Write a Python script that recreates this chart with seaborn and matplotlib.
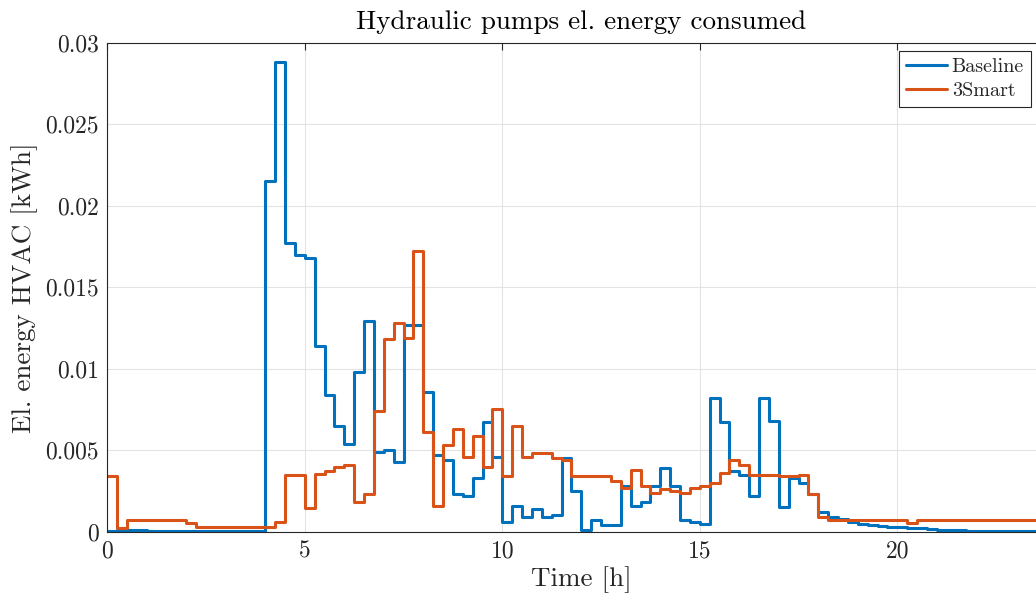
import numpy as np
import pandas as pd
import matplotlib
matplotlib.use("Agg")
import matplotlib.pyplot as plt
import seaborn as sns

# 15-minute interval energy values (kWh), one row per hour
baseline = [
    0.00005, 0.00012, 0.00012, 0.00012,   # 0 h
    0.00003, 0.00003, 0.00003, 0.00003,   # 1 h
    0.00003, 0.00003, 0.00003, 0.00003,   # 2 h
    0.00003, 0.00003, 0.00003, 0.00003,   # 3 h
    0.0215, 0.0288, 0.0177, 0.0170,       # 4 h
    0.0168, 0.0114, 0.0084, 0.0065,       # 5 h
    0.0054, 0.0098, 0.0129, 0.0049,       # 6 h
    0.0050, 0.0043, 0.0127, 0.0127,       # 7 h
    0.0086, 0.0047, 0.0044, 0.0023,       # 8 h
    0.0022, 0.0033, 0.0067, 0.0046,       # 9 h
    0.0006, 0.0016, 0.0009, 0.0014,       # 10 h
    0.0009, 0.0010, 0.0045, 0.0025,       # 11 h
    0.0001, 0.0007, 0.0004, 0.0004,       # 12 h
    0.0028, 0.0016, 0.0018, 0.0028,       # 13 h
    0.0039, 0.0028, 0.0007, 0.0006,       # 14 h
    0.0005, 0.0082, 0.0067, 0.0037,       # 15 h
    0.0035, 0.0022, 0.0082, 0.0068,       # 16 h
    0.0015, 0.0033, 0.0030, 0.0023,       # 17 h
    0.0012, 0.0009, 0.0008, 0.0006,       # 18 h
    0.0005, 0.0004, 0.00035, 0.0003,      # 19 h
    0.00028, 0.00024, 0.0002, 0.00016,    # 20 h
    0.00013, 0.0001, 0.00008, 0.00006,    # 21 h
    0.00004, 0.00003, 0.00003, 0.00003,   # 22 h
    0.00003, 0.00003, 0.00003, 0.00003,   # 23 h
]

smart = [
    0.0034, 0.0002, 0.00074, 0.00074,     # 0 h
    0.00074, 0.00074, 0.00074, 0.00074,   # 1 h
    0.00053, 0.0003, 0.0003, 0.0003,      # 2 h
    0.0003, 0.0003, 0.0003, 0.0003,       # 3 h
    0.0003, 0.0006, 0.0035, 0.0035,       # 4 h
    0.00145, 0.00355, 0.0037, 0.0040,     # 5 h
    0.0041, 0.0018, 0.0023, 0.0074,       # 6 h
    0.0118, 0.0128, 0.0119, 0.0172,       # 7 h
    0.0061, 0.0016, 0.0053, 0.0063,       # 8 h
    0.0046, 0.0059, 0.0040, 0.0075,       # 9 h
    0.0034, 0.0065, 0.0046, 0.0048,       # 10 h
    0.0048, 0.0045, 0.0044, 0.0034,       # 11 h
    0.0034, 0.0034, 0.0034, 0.0031,       # 12 h
    0.0027, 0.0038, 0.0028, 0.0024,       # 13 h
    0.0026, 0.0025, 0.0024, 0.0027,       # 14 h
    0.0028, 0.0030, 0.0036, 0.0044,       # 15 h
    0.0041, 0.0035, 0.0035, 0.0035,       # 16 h
    0.0034, 0.0034, 0.0035, 0.0023,       # 17 h
    0.0009, 0.00074, 0.00074, 0.00074,    # 18 h
    0.00074, 0.00074, 0.00074, 0.00074,   # 19 h
    0.00074, 0.00053, 0.00074, 0.00074,   # 20 h
    0.00074, 0.00074, 0.00074, 0.00074,   # 21 h
    0.00074, 0.00074, 0.00074, 0.00074,   # 22 h
    0.00074, 0.00074, 0.00074, 0.00074,   # 23 h
]

series_names = ["Baseline", "3Smart"]
x_ticks = [0, 5, 10, 15, 20]
x_tick_labels = ["0", "5", "10", "15", "20"]
y_ticks = [0, 0.005, 0.01, 0.015, 0.02, 0.025, 0.03]
y_tick_labels = ["0", "0.005", "0.01", "0.015", "0.02", "0.025", "0.03"]

step_h = 0.25
t_edges = np.arange(len(baseline) + 1) * step_h

frames = []
for name, vals in zip(series_names, [baseline, smart]):
    v = list(vals) + [vals[-1]]
    frames.append(pd.DataFrame({"Time": t_edges, "Energy": v, "Series": name}))
df = pd.concat(frames, ignore_index=True)

sns.set_style("white")
plt.rcParams["font.family"] = ["cmr10", "DejaVu Serif"]
plt.rcParams["mathtext.fontset"] = "cm"
plt.rcParams["axes.formatter.use_mathtext"] = True

fig = plt.figure(figsize=(10.36, 6.06), dpi=100)
ax_left = 107.3 / 1036
ax_width = 24 * 39.5 / 1036
ax_bottom = (606 - 531.7) / 606
ax_height = (531.7 - 42.7) / 606
ax = fig.add_axes([ax_left, ax_bottom, ax_width, ax_height])

palette = {"Baseline": "#0072BD", "3Smart": "#D95319"}
sns.lineplot(data=df, x="Time", y="Energy", hue="Series", palette=palette,
             estimator=None, sort=False, drawstyle="steps-post",
             linewidth=2.2, ax=ax, legend=True)

ax.set_xlim(0, 24)
ax.set_ylim(0, 0.03)
ax.set_xticks(x_ticks)
ax.set_xticklabels(x_tick_labels)
ax.set_yticks(y_ticks)
ax.set_yticklabels(y_tick_labels)
ax.grid(True, color="#e3e3e3", linewidth=0.8)
ax.set_axisbelow(True)
for s in ax.spines.values():
    s.set_color("#262626")
    s.set_linewidth(0.8)
ax.tick_params(direction="in", length=5, width=0.8, color="#262626",
               labelsize=17, labelcolor="#262626", top=True, right=True, pad=6)

ax.set_xlabel("Time [h]", fontsize=19.5, color="#262626", labelpad=3)
ax.set_ylabel("El. energy HVAC [kWh]", fontsize=19.5, color="#262626", labelpad=5)
ax.set_title("Hydraulic pumps el. energy consumed", fontsize=19.5, color="#000000", pad=10)

handles, labels = ax.get_legend_handles_labels()
leg = ax.legend(handles, labels, loc="upper right",
                bbox_to_anchor=(1031 / 1036, 1 - 51 / 606),
                bbox_transform=fig.transFigure, fontsize=14.5, frameon=True,
                fancybox=False, edgecolor="#262626", framealpha=1,
                handlelength=2.0, handletextpad=0.25, borderpad=0.35,
                labelspacing=0.3, borderaxespad=0)
leg.get_frame().set_linewidth(0.8)

fig.savefig("out.png", dpi=100)
